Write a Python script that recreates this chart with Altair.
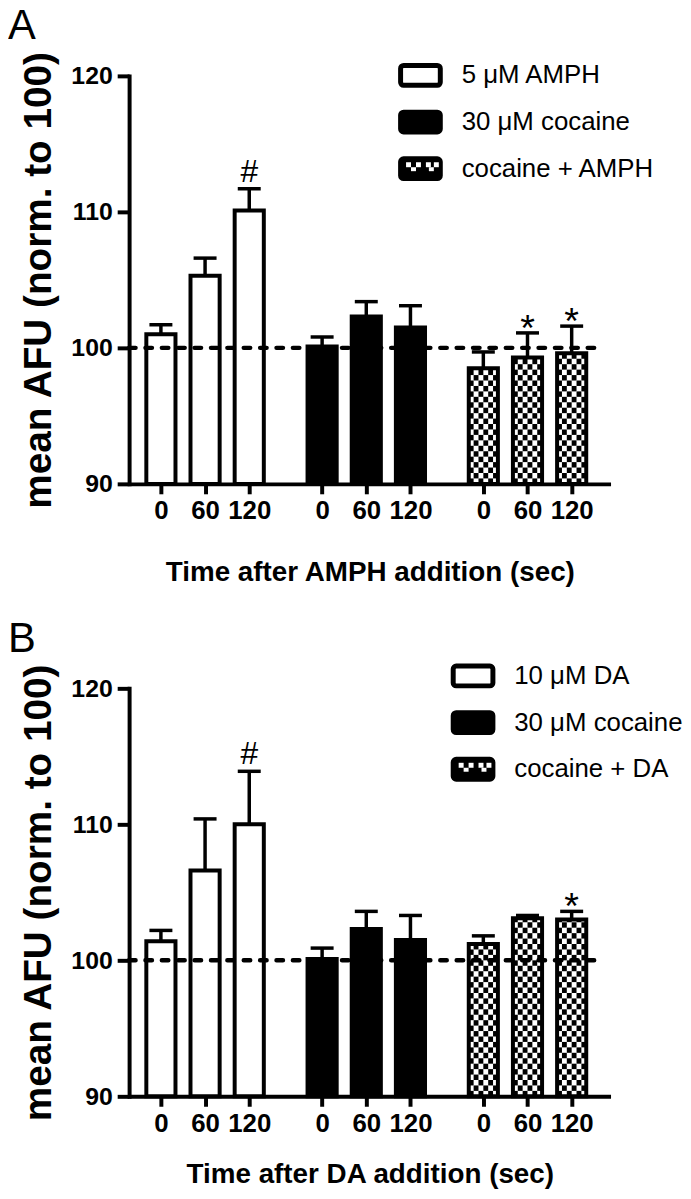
import altair as alt
import pandas as pd

# ---------------- data ----------------
times = ["0", "60", "120"]
y_ticks = [90, 100, 110, 120]

a_groups = ["5 μM AMPH", "30 μM cocaine", "cocaine + AMPH"]
a_amph_mean = [101.0, 105.3, 110.1]
a_amph_err = [0.7, 1.3, 1.6]
a_coc_mean = [100.1, 102.3, 101.5]
a_coc_err = [0.7, 1.1, 1.6]
a_mix_mean = [98.5, 99.3, 99.6]
a_mix_err = [1.2, 1.8, 2.0]
a_marks = [["", "", "#"], ["", "", ""], ["", "*", "*"]]

b_groups = ["10 μM DA", "30 μM cocaine", "cocaine + DA"]
b_da_mean = [101.4, 106.6, 110.0]
b_da_err = [0.8, 3.8, 3.9]
b_coc_mean = [100.1, 102.3, 101.5]
b_coc_err = [0.8, 1.3, 1.8]
b_mix_mean = [101.2, 103.1, 103.0]
b_mix_err = [0.6, 0.2, 0.6]
b_marks = [["", "", "#"], ["", "", ""], ["", "", "*"]]

# ---------------- layout / style ----------------
FONT = "Liberation Sans"
W, H = 485, 411
YMIN, YMAX = 90, 120
XMAX = 10.9
OFFSET, GROUP_STEP = 0.72, 3.65
HW, CAPW = 0.33, 0.26
CELL_H, NCOL = 0.4, 6
FILLS = ["white", "black", "white"]
LEG_STEP = 47

positions = [round(OFFSET + t + GROUP_STEP * g, 2) for g in range(3) for t in range(3)]
label_expr = ("[" + ",".join(f"'{l}'" for l in times * 3) + "][indexof(["
              + ",".join(str(p) for p in positions) + "], datum.value)]")


def build(groups, means, errs, marks):
    rows = []
    for g in range(3):
        for t in range(3):
            pos = positions[g * 3 + t]
            rows.append(dict(group=groups[g], gi=g, time=times[t], pos=pos,
                             xl=pos - HW, xr=pos + HW, cl=pos - CAPW, cr=pos + CAPW,
                             mean=means[g][t], top=means[g][t] + errs[g][t],
                             base=YMIN, fillc=FILLS[g], mark=marks[g][t]))
    return pd.DataFrame(rows)


def checker(df):
    rows = []
    cw = 2 * HW / NCOL
    for _, r in df[df.gi == 2].iterrows():
        y, j = YMIN, 0
        while y < r["mean"] - 1e-9:
            y2 = min(y + CELL_H, r["mean"])
            for i in range(NCOL):
                if (i + j) % 2 == 0:
                    rows.append(dict(cx=r.xl + i * cw, cx2=r.xl + (i + 1) * cw, cy=y, cy2=y2))
            y, j = y2, j + 1
    return pd.DataFrame(rows)


def legend(groups, x0, y0):
    rows, cells = [], []
    for i, name in enumerate(groups):
        top = y0 + i * LEG_STEP
        rows.append(dict(label=name, fillc=FILLS[i] if i != 2 else "black",
                         lx=x0 + 2.5, lx2=x0 + 42.5, ly=top + 2.5, ly2=top + 22.5,
                         tx=x0 + 64, ty=top + 12.5))
        if i == 2:
            for dx in (8, 18, 28, 36):
                cells.append(dict(px=x0 + dx, px2=x0 + dx + 5, py=top + 6, py2=top + 11))
            for dx in (13, 31):
                cells.append(dict(px=x0 + dx, px2=x0 + dx + 5, py=top + 11, py2=top + 15))
    return pd.DataFrame(rows), pd.DataFrame(cells)


def panel(groups, means, errs, marks, letter, xtitle, leg_x, leg_y, xtitle_pad):
    df = build(groups, means, errs, marks)
    cells_df = checker(df)
    leg_df, leg_cells = legend(groups, leg_x, leg_y)

    xs = alt.Scale(domain=[0, XMAX], nice=False, zero=False)
    ys = alt.Scale(domain=[YMIN, YMAX], nice=False, zero=False)
    xaxis = alt.Axis(values=positions, labelExpr=label_expr, tickSize=10, tickWidth=4,
                     domainWidth=4, labelFontSize=26, labelFontWeight="bold", labelPadding=4,
                     labelFlush=False, titleFontSize=28, titleFontWeight="bold",
                     titlePadding=xtitle_pad, grid=False)
    yaxis = alt.Axis(values=y_ticks, tickSize=12, tickWidth=4, domainWidth=4,
                     labelFontSize=25, labelFontWeight="bold", labelPadding=5,
                     titleFontSize=39, titleFontWeight="bold", titlePadding=12,
                     grid=False, domainCap="square")

    base = alt.Chart(df)
    fills = base.mark_rect().encode(
        x=alt.X("xl:Q", scale=xs, axis=xaxis, title=xtitle),
        x2="xr:Q",
        y=alt.Y("mean:Q", scale=ys, axis=yaxis, title="mean AFU (norm. to 100)"),
        y2="base:Q",
        fill=alt.Fill("fillc:N", scale=None),
    )
    checks = alt.Chart(cells_df).mark_rect(fill="black").encode(
        x="cx:Q", x2="cx2:Q", y="cy:Q", y2="cy2:Q")
    outlines = base.mark_rect(fill="transparent", stroke="black", strokeWidth=4).encode(
        x="xl:Q", x2="xr:Q", y="mean:Q", y2="base:Q")
    errline = base.mark_rule(color="black", strokeWidth=3.5).encode(
        x="pos:Q", y="mean:Q", y2="top:Q")
    caps = base.mark_rule(color="black", strokeWidth=3.5).encode(
        x="cl:Q", x2="cr:Q", y="top:Q")
    dash_df = pd.DataFrame({"ry": [100], "rx": [0], "rx2": [10.75]})
    dash = alt.Chart(dash_df).mark_rule(color="black", strokeWidth=4.5, strokeDash=[6.5, 10],
                                        strokeCap="round").encode(
        x="rx:Q", x2="rx2:Q", y="ry:Q")
    ann_hash = base.transform_filter("datum.mark == '#'").mark_text(
        fontSize=32, baseline="alphabetic", dy=-7, color="black").encode(
        x="pos:Q", y="top:Q", text="mark:N")
    ann_star = base.transform_filter("datum.mark == '*'").mark_text(
        fontSize=38, baseline="alphabetic", dy=8, color="black").encode(
        x="pos:Q", y="top:Q", text="mark:N")

    leg_rects = alt.Chart(leg_df).mark_rect(stroke="black", strokeWidth=5, cornerRadius=3).encode(
        x=alt.X("lx:Q", scale=None, axis=None), x2="lx2:Q",
        y=alt.Y("ly:Q", scale=None, axis=None), y2="ly2:Q",
        fill=alt.Fill("fillc:N", scale=None))
    leg_c = alt.Chart(leg_cells).mark_rect(fill="white").encode(
        x=alt.X("px:Q", scale=None, axis=None), x2="px2:Q",
        y=alt.Y("py:Q", scale=None, axis=None), y2="py2:Q")
    leg_text = alt.Chart(leg_df).mark_text(align="left", baseline="middle", fontSize=26,
                                           color="black").encode(
        x=alt.X("tx:Q", scale=None, axis=None),
        y=alt.Y("ty:Q", scale=None, axis=None), text="label:N")

    letter_t = alt.Chart(pd.DataFrame({"t": [letter]})).mark_text(
        fontSize=42, align="left", baseline="alphabetic", color="black").encode(
        x=alt.value(-122), y=alt.value(-37), text="t:N")

    return alt.layer(fills, checks, outlines, errline, caps, dash, ann_hash, ann_star,
                     leg_rects, leg_c, leg_text, letter_t).properties(width=W, height=H)


pA = panel(groups=a_groups,
           means=[a_amph_mean, a_coc_mean, a_mix_mean],
           errs=[a_amph_err, a_coc_err, a_mix_err],
           marks=a_marks, letter="A", xtitle="Time after AMPH addition (sec)",
           leg_x=271, leg_y=-13, xtitle_pad=35)
pB = panel(groups=b_groups,
           means=[b_da_mean, b_coc_mean, b_mix_mean],
           errs=[b_da_err, b_coc_err, b_mix_err],
           marks=b_marks, letter="B", xtitle="Time after DA addition (sec)",
           leg_x=324, leg_y=-25, xtitle_pad=25)

chart = alt.vconcat(pA, pB, spacing=32,
                    padding={"top": -7, "left": 0, "right": 0, "bottom": 0}).configure(
    font=FONT
).configure_view(stroke=None).configure_axis(
    domainColor="black", tickColor="black", labelColor="black", titleColor="black",
    labelFont=FONT, titleFont=FONT
)

chart.save("out.html", embed_options={"renderer": "svg", "actions": False})
